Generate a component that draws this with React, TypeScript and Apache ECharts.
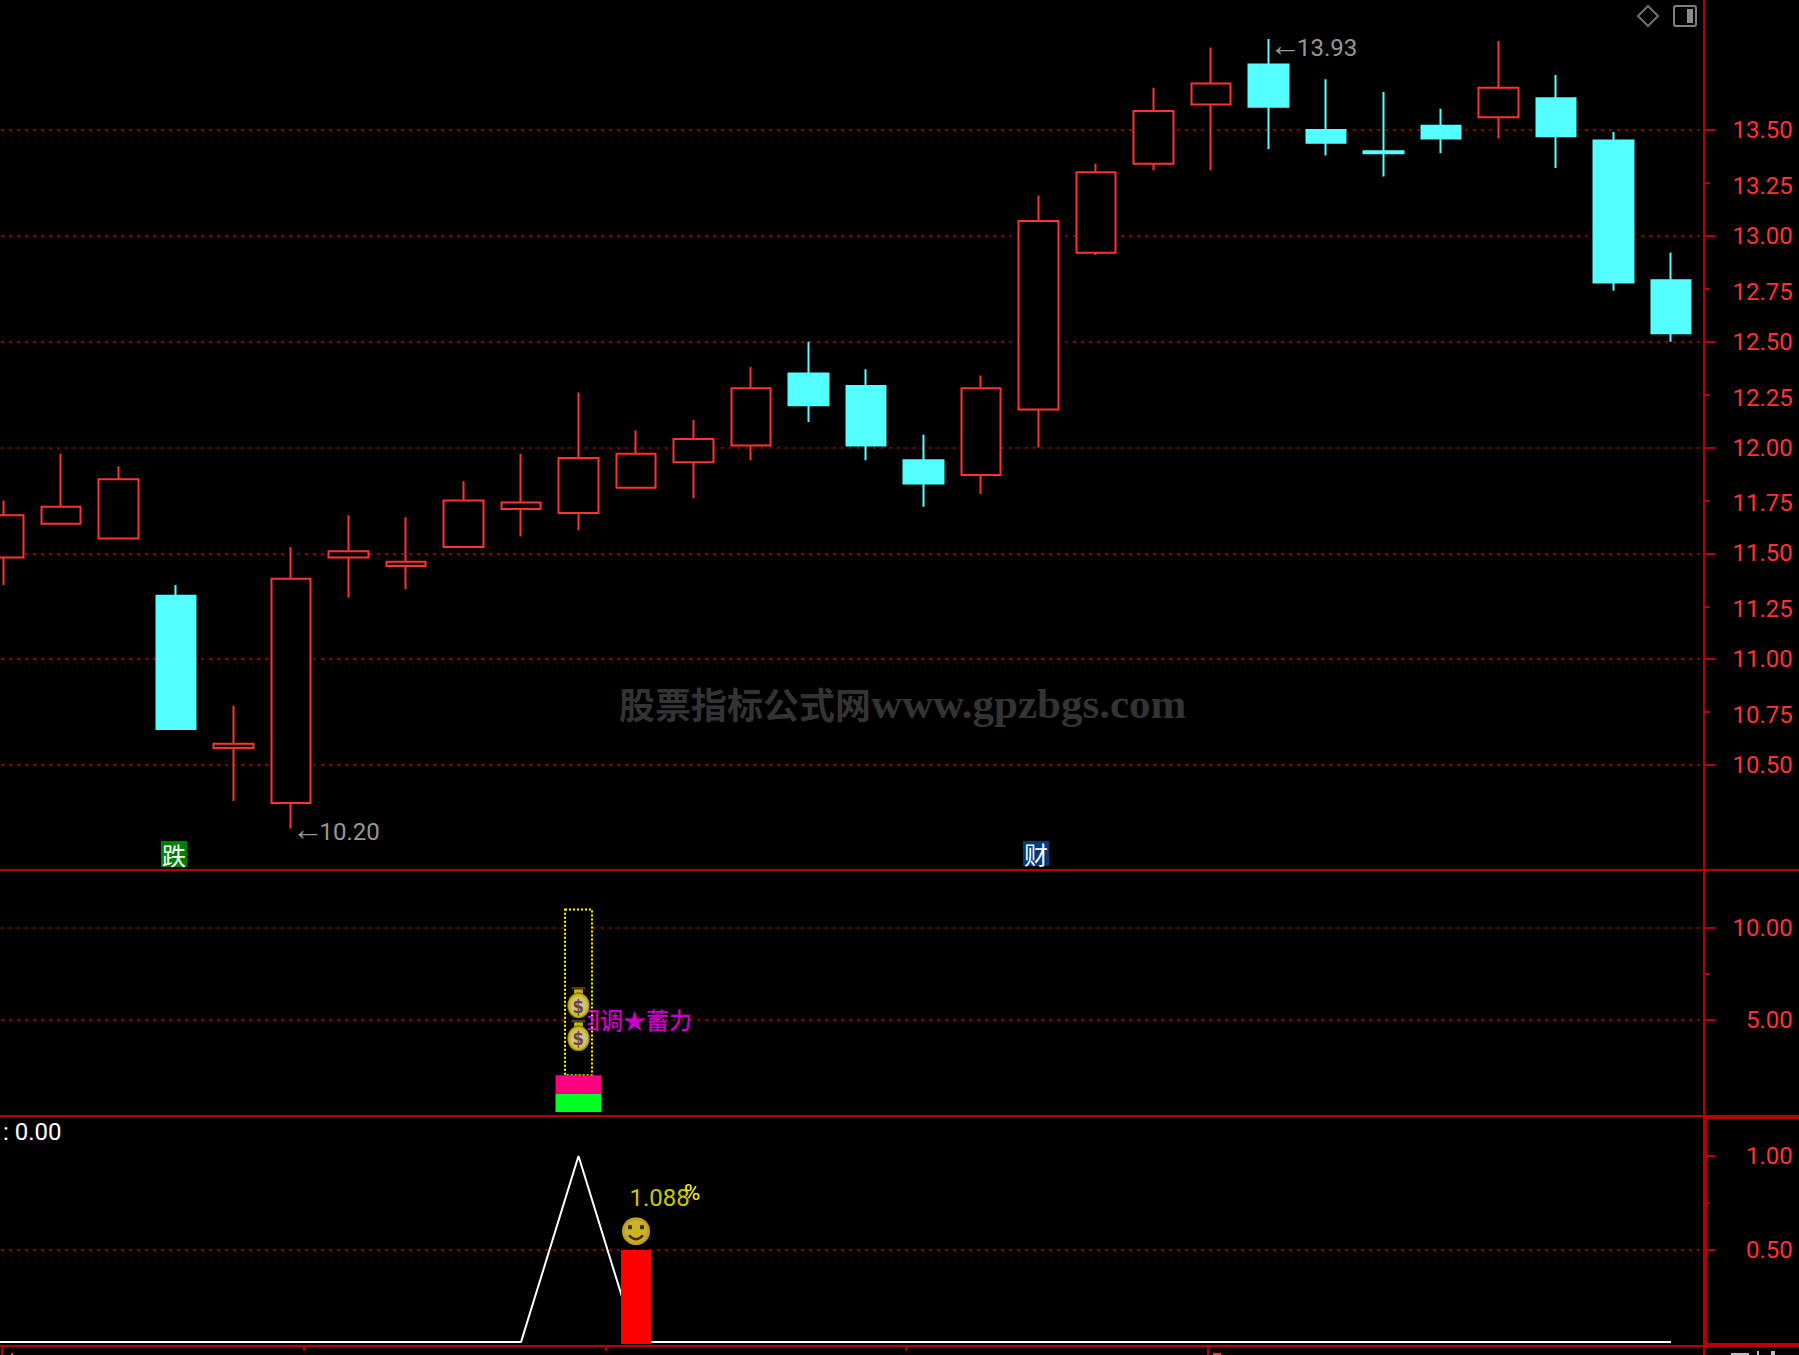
import React, { useEffect, useRef } from "react";
import * as echarts from "echarts";

// index 0 lies just off the left edge of the picture
const categories = ["0","1","2","3","4","5","6","7","8","9","10","11","12","13","14","15","16","17","18","19","20","21","22","23","24","25","26","27","28","29","30"];
// open, close, low, high
const candles: any[] = [
  ["-","-","-","-"],
  [11.48,11.68,11.35,11.75],
  [11.64,11.72,11.64,11.97],
  [11.57,11.85,11.57,11.91],
  [11.30,10.67,10.67,11.35],
  [10.58,10.60,10.33,10.78],
  [10.32,11.38,10.20,11.53],
  [11.48,11.51,11.29,11.68],
  [11.44,11.46,11.33,11.67],
  [11.53,11.75,11.53,11.84],
  [11.71,11.74,11.58,11.97],
  [11.69,11.95,11.61,12.26],
  [11.81,11.97,11.81,12.08],
  [11.93,12.04,11.76,12.13],
  [12.01,12.28,11.94,12.38],
  [12.35,12.20,12.12,12.50],
  [12.29,12.01,11.94,12.37],
  [11.94,11.83,11.72,12.06],
  [11.87,12.28,11.78,12.34],
  [12.18,13.07,12.00,13.19],
  [12.92,13.30,12.91,13.34],
  [13.34,13.59,13.31,13.70],
  [13.62,13.72,13.31,13.89],
  [13.81,13.61,13.41,13.93],
  [13.50,13.44,13.38,13.74],
  [13.40,13.39,13.28,13.68],
  [13.52,13.46,13.39,13.60],
  [13.56,13.70,13.46,13.92],
  [13.65,13.47,13.32,13.76],
  [13.45,12.78,12.74,13.49],
  [12.79,12.54,12.50,12.92],
];
const priceMajor = [10.5,11,11.5,12,12.5,13,13.5];
const priceMinor = [10.75,11.25,11.75,12.25,12.75,13.25];
const midMajor = [5,10];
const midMinor = [7.5];
const lowMajor = [0.5,1];
const lowMinor = [0.75];

const greenBar = [null,null,null,null,null,null,null,null,null,null,null,1,null,null,null,null,null,null,null,null,null,null,null,null,null,null,null,null,null,null,null];
const pinkBar  = [null,null,null,null,null,null,null,null,null,null,null,1,null,null,null,null,null,null,null,null,null,null,null,null,null,null,null,null,null,null,null];
const dottedBox = [[11, 2, 11]];
const bags = [[11, 5.95], [11, 4.16]];
const lowLine = [0.01,0.01,0.01,0.01,0.01,0.01,0.01,0.01,0.01,0.01,0.01,1,0.01,0.01,0.01,0.01,0.01,0.01,0.01,0.01,0.01,0.01,0.01,0.01,0.01,0.01,0.01,0.01,0.01,0.01,0.01];
const redBar = [null,null,null,null,null,null,null,null,null,null,null,null,0.5,null,null,null,null,null,null,null,null,null,null,null,null,null,null,null,null,null,null];
const smile = [[12, 0.6]];

const RED = "#B40000";
const LABEL = "#FF3232";
const CYAN = "#54FFFF";
const TXT = "Roboto, 'Liberation Sans', sans-serif";
const ARROW = "'Liberation Sans', sans-serif";
const CJK = "'Noto Sans CJK SC', sans-serif";

const svgUri = (s: string) => "image://data:image/svg+xml;charset=utf-8," + encodeURIComponent(s);
const bagSvg = svgUri(`<svg xmlns="http://www.w3.org/2000/svg" width="28" height="32" viewBox="0 0 28 32"><defs><radialGradient id="g" cx="50%" cy="50%" r="50%"><stop offset="0%" stop-color="#fffbe0"/><stop offset="60%" stop-color="#fff4a0"/><stop offset="85%" stop-color="#ffe600"/><stop offset="100%" stop-color="#806020"/></radialGradient></defs><rect x="6" y="0" width="16" height="3" fill="#6b4a2a"/><rect x="9" y="3" width="10" height="6" fill="#ffe020"/><circle cx="14" cy="19" r="13" fill="url(#g)"/><text x="14" y="26" font-family="DejaVu Sans" font-weight="bold" font-size="19" text-anchor="middle" fill="#8a5a4a">$</text></svg>`);
const smileSvg = svgUri(`<svg xmlns="http://www.w3.org/2000/svg" width="28" height="28" viewBox="0 0 28 28"><circle cx="14" cy="14" r="14" fill="#F0C830"/><circle cx="14" cy="14" r="11" fill="#FFE030"/><rect x="6" y="8" width="4" height="4" fill="#4a3a10"/><rect x="18" y="8" width="4" height="4" fill="#4a3a10"/><path d="M7 18 Q14 26 21 18" stroke="#4a3a10" stroke-width="2.5" fill="none"/></svg>`);

const gridLine = (showMax: boolean) => ({ show: true, showMinLine: true, showMaxLine: showMax, lineStyle: { color: RED, width: 2, type: [2, 6] as any, dashOffset: 4.25 } });
const tickLabel = { align: "right", margin: 89, color: LABEL, fontFamily: TXT, fontSize: 24, fontWeight: 400, formatter: (v: number) => v.toFixed(2) };

const yAxes = (gridIndex: number, min: number, max: number, interval: number, major: number[], minor: number[], minorLabels: number[], showMax: boolean) => [
  {
    type: "value", gridIndex, min, max, interval, position: "right", offset: 4,
    axisLine: { show: false },
    axisTick: { show: true, length: 12, customValues: major, lineStyle: { color: RED, width: 2 } },
    axisLabel: { ...tickLabel, show: true, customValues: major },
    splitLine: gridLine(showMax),
  },
  {
    type: "value", gridIndex, min, max, interval, position: "right", offset: 4,
    axisLine: { show: false },
    axisTick: { show: true, length: 6, customValues: minor, lineStyle: { color: RED, width: 2 } },
    axisLabel: minorLabels.length ? { ...tickLabel, show: true, customValues: minorLabels, verticalAlign: "top", lineHeight: 6 } : { show: false },
    splitLine: { show: false },
  },
];

const line = (x1: number, y1: number, x2: number, y2: number, w: number, color = RED) => ({
  type: "line", silent: true, z: 50, shape: { x1, y1, x2, y2 }, style: { stroke: color, lineWidth: w },
});
const box = (x: number, y: number, width: number, height: number, fill: string, z = 50) => ({
  type: "rect", silent: true, z, shape: { x, y, width, height }, style: { fill },
});
const txt = (x: number, y: number, text: string, fill: string, fontSize: number, fontFamily = TXT, fontWeight: any = 400, extra: any = {}) => ({
  type: "text", silent: true, z: 51, x, y, style: { text, fill, fontSize, fontFamily, fontWeight, textVerticalAlign: "middle", ...extra },
});

export default function App() {
  const ref = useRef<HTMLDivElement>(null);
  useEffect(() => {
    document.body.style.margin = "0";
    document.body.style.background = "#000";
    const chart = echarts.init(ref.current!, undefined, { renderer: "svg" });
    const grids = [
      { outerBoundsMode: "none", left: -82.75, width: 1782.5, top: 24.17, height: 846.67 },
      { outerBoundsMode: "none", left: -82.75, width: 1782.5, top: 882, height: 230 },
      { outerBoundsMode: "none", left: -82.75, width: 1782.5, top: 1156, height: 188 },
    ];
    chart.setOption({
      animation: false,
      backgroundColor: "#000",
      grid: grids,
      xAxis: [0, 1, 2].map((g) => ({ type: "category", gridIndex: g, data: categories, show: false })),
      yAxis: [
        ...yAxes(0, 10, 14, 0.5, priceMajor, priceMinor, priceMinor, true),
        ...yAxes(1, 0, 12.5, 5, midMajor, midMinor, [], true),
        ...yAxes(2, 0, 1, 0.5, lowMajor, lowMinor, [], false),
      ],
      series: [
        {
          type: "candlestick", xAxisIndex: 0, yAxisIndex: 0, data: candles, barWidth: 40, z: 2,
          itemStyle: { color: "#000", color0: CYAN, borderColor: LABEL, borderColor0: CYAN, borderWidth: 2 },
        },
        {
          type: "scatter", xAxisIndex: 0, yAxisIndex: 0, z: 6, symbolSize: 1, itemStyle: { color: "transparent" },
          data: [
            { value: [6, 10.2], label: { formatter: "{a|←}{b|10.20}", offset: [0, 3] } },
            { value: [23, 13.93], label: { formatter: "{a|←}{b|13.93}", offset: [0, 9] } },
          ],
          label: {
            show: true, position: "right", distance: 0, color: "#C0C0C0",
            rich: {
              a: { fontFamily: ARROW, fontSize: 32, width: 28, align: "left", color: "#C0C0C0", padding: [0, 0, 6, 0] },
              b: { fontFamily: TXT, fontWeight: 400, fontSize: 24, color: "#C0C0C0" },
            },
          },
        },
        {
          type: "custom", xAxisIndex: 1, yAxisIndex: 2, z: 2, data: dottedBox, encode: { x: 0, y: [1, 2] }, clip: false,
          renderItem: (_p: any, api: any) => {
            const b = api.coord([api.value(0), api.value(1)]);
            const t = api.coord([api.value(0), api.value(2)]);
            return { type: "rect", shape: { x: b[0] - 13.5, y: t[1], width: 27, height: b[1] - t[1] }, style: { fill: "#000", stroke: "#FFFF00", lineWidth: 2, lineDash: [2, 2] } };
          },
        },
        { type: "bar", name: "green", xAxisIndex: 1, yAxisIndex: 2, stack: "v", barWidth: 46, data: greenBar, itemStyle: { color: "#00FF22" }, z: 3 },
        { type: "bar", name: "pink", xAxisIndex: 1, yAxisIndex: 2, stack: "v", barWidth: 46, data: pinkBar, itemStyle: { color: "#FF0080" }, z: 3 },
        {
          type: "scatter", xAxisIndex: 1, yAxisIndex: 2, z: 3, symbolSize: 1, itemStyle: { color: "transparent" },
          data: [[11, 5]],
          label: { show: true, position: "right", distance: -2, formatter: "回调★蓄力", color: "#FF00FF", fontFamily: CJK, fontWeight: 500, fontSize: 23, offset: [0, -1] },
        },
        { type: "scatter", xAxisIndex: 1, yAxisIndex: 2, z: 5, symbol: bagSvg, symbolSize: [28, 32], data: bags },
        { type: "line", xAxisIndex: 2, yAxisIndex: 4, z: 2, data: lowLine, showSymbol: false, clip: false, lineStyle: { color: "#FFFFFF", width: 2 } },
        { type: "bar", xAxisIndex: 2, yAxisIndex: 4, z: 3, barWidth: 30, data: redBar, itemStyle: { color: "#FF0000" } },
        {
          type: "scatter", xAxisIndex: 2, yAxisIndex: 4, z: 4, symbol: smileSvg, symbolSize: 28, data: smile,
        },
        {
          type: "scatter", xAxisIndex: 2, yAxisIndex: 4, z: 6, symbolSize: 1, itemStyle: { color: "transparent" },
          data: [[12, 0.777]],
          label: { show: true, position: "right", distance: -7, formatter: "1.088", color: "#FFFF00", fontFamily: TXT, fontWeight: 400, fontSize: 24 },
        },
      ],
      graphic: [
        // panel frame
        line(1704, 0, 1704, 1116, 2),
        line(1704, 1345, 1704, 1355, 2),
        line(0, 870, 1799, 870, 2),
        line(0, 1116, 1704, 1116, 2),
        line(1704, 1117, 1799, 1117, 4),
        line(1705, 1115, 1705, 1347, 4),
        line(0, 1346, 1704, 1346, 2),
        line(1704, 1345, 1799, 1345, 4),
        // time axis stubs
        line(2, 1346, 2, 1355, 2),
        line(304, 1346, 304, 1351, 2),
        line(606, 1346, 606, 1351, 2),
        line(906, 1346, 906, 1351, 2),
        line(1208, 1346, 1208, 1355, 2),
        box(11, 1353, 2, 2, LABEL),
        box(1213, 1353, 8, 2, LABEL),
        box(1731, 1353, 18, 2, "#C0C0C0"),
        box(1757, 1351, 2, 4, "#C0C0C0"),
        box(1771, 1351, 4, 4, "#C0C0C0"),
        // top right icons
        { type: "polygon", silent: true, z: 50, shape: { points: [[1648, 6], [1658, 16], [1648, 26], [1638, 16]] }, style: { fill: "none", stroke: "#707070", lineWidth: 2 } },
        { type: "rect", silent: true, z: 50, shape: { x: 1674, y: 6, width: 22, height: 20, r: 2 }, style: { fill: "#000", stroke: "#808080", lineWidth: 2 } },
        box(1687, 9, 6, 14, "#8C8C8C"),
        // signal tags
        box(161, 841, 26, 26, "#008000"),
        txt(162, 854, "跌", "#FFFFFF", 24, CJK, 400),
        box(1023, 841, 26, 25, "#003C78"),
        txt(1024, 853, "财", "#FFFFFF", 24, CJK, 400),
        // covers the left part of the first clipped character
        box(574, 1005, 14, 30, "#000", 4),
        // watermark
        {
          type: "text", silent: true, z: 1, x: 619, y: 703,
          style: {
            text: "{a|股票指标公式网}{b|www.gpzbgs.com}", textVerticalAlign: "middle",
            rich: {
              a: { fill: "#333333", fontFamily: CJK, fontWeight: 700, fontSize: 36 },
              b: { fill: "#333333", fontFamily: "'Liberation Serif', serif", fontWeight: 700, fontSize: 43 },
            },
          },
        },
        txt(3, 1132, ": 0.00", "#FFFFFF", 24),
        txt(684, 1192, "%", "#FFFF00", 22),
      ],
    });
    return () => chart.dispose();
  }, []);
  return <div ref={ref} style={{ width: 1799, height: 1355, overflow: "hidden" }} />;
}
